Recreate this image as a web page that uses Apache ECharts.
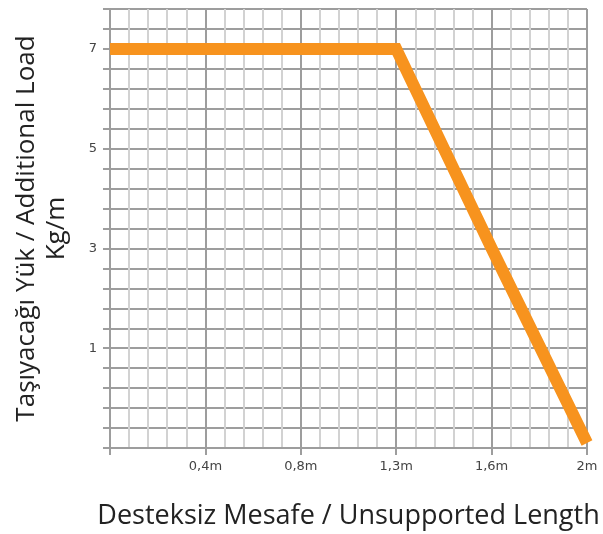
<!DOCTYPE html>
<html>
<head>
<meta charset="utf-8">
<script src="https://cdn.jsdelivr.net/npm/echarts@6/dist/echarts.min.js"></script>
<style>
html,body{margin:0;padding:0;background:#fff;}
#chart{width:603px;height:534px;}
</style>
</head>
<body>
<div id="chart"></div>
<script>
// Categories (unsupported length)
var categories = ['', '0,4m', '0,8m', '1,3m', '1,6m', '2m'];
// Additional load values (Kg/m) at each category
var loadValues = [7, 7, 7, 7, 3, -0.9];
// Y tick labels shown
var yTickLabels = [1, 3, 5, 7];
var xTitle = 'Desteksiz Mesafe / Unsupported Length';
var yTitle = 'Taşıyacağı Yük / Additional Load\nKg/m';

var major = '#9d9d9d';
var minor = '#d2d2d2';
var chart = echarts.init(document.getElementById('chart'));
chart.setOption({
  animation: false,
  grid: {left: 110, right: 16, top: 9, bottom: 86, containLabel: false, outerBoundsMode: 'none'},
  xAxis: [{
    type: 'category',
    data: categories,
    boundaryGap: false,
    name: xTitle,
    nameLocation: 'middle',
    nameGap: 55,
    nameTextStyle: {fontFamily: 'Open Sans', fontSize: 27, color: '#222'},
    axisLine: {show: true, onZero: false, lineStyle: {color: major, width: 2}},
    axisTick: {show: true, length: 7, lineStyle: {color: major, width: 2}},
    axisLabel: {margin: 12, fontFamily: 'DejaVu Sans', fontSize: 13, color: '#444'},
    splitLine: {show: false},
    z: 3
  }, {
    type: 'value',
    min: 0, max: 25, interval: 1,
    show: true,
    position: 'bottom',
    axisLine: {show: false, onZero: false},
    axisTick: {show: false},
    axisLabel: {show: false},
    splitLine: {show: true, lineStyle: {color: [major, minor, minor, minor, minor], width: 2}}
  }],
  yAxis: [{
    type: 'value',
    min: -1, max: 7.8, interval: 1,
    name: yTitle,
    nameLocation: 'middle',
    nameGap: 38,
    nameTextStyle: {fontFamily: 'Open Sans', fontSize: 26, color: '#222', lineHeight: 30, align: 'center'},
    axisLine: {show: true, onZero: false, lineStyle: {color: major, width: 2}},
    axisTick: {show: false},
    axisLabel: {
      margin: 13, fontFamily: 'DejaVu Sans', fontSize: 13, color: '#444',
      formatter: function (v) {
        var r = Math.round(v);
        return yTickLabels.indexOf(r) >= 0 && Math.abs(v - r) < 1e-6 ? String(r) : '';
      }
    },
    splitLine: {show: false}
  }, {
    type: 'value',
    min: 0, max: 22, interval: 1,
    position: 'left',
    axisLine: {show: false, onZero: false},
    axisTick: {show: true, length: 7, lineStyle: {color: major, width: 2}},
    axisLabel: {show: false},
    splitLine: {show: true, lineStyle: {color: major, width: 2}}
  }],
  series: [{
    type: 'line',
    xAxisIndex: 0,
    yAxisIndex: 0,
    data: loadValues,
    symbol: 'none',
    lineStyle: {color: '#F7931E', width: 12, cap: 'butt', join: 'miter'},
    z: 5
  }]
});
</script>
</body>
</html>
